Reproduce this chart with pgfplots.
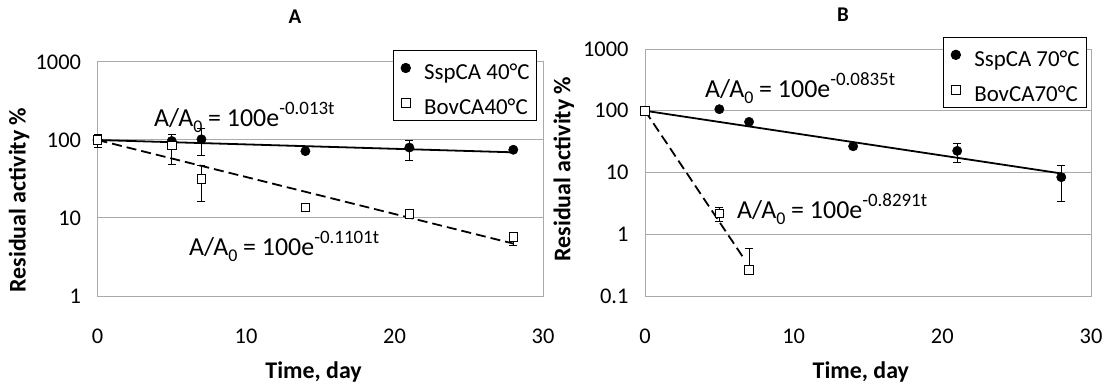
\documentclass[border=0pt]{standalone}
\usepackage{pgfplots}
\pgfplotsset{compat=1.18}
\usepackage{fontspec}
\setmainfont{Carlito}
\definecolor{gridgray}{RGB}{170,170,170}
\newcommand{\eqn}[2]{A/A\raisebox{-6bp}{\fontsize{18}{20}\selectfont #1} = 100e\raisebox{12bp}{\fontsize{19}{20}\selectfont #2}}
\pgfplotsset{
  every axis/.append style={
    scale only axis,
    xmin=0, xmax=30, xtick={0,10,20,30}, xticklabels={0,10,20,30},
    clip=false, major tick length=0pt,
    ymajorgrids, grid style={gridgray, line width=1bp},
    axis line style={gridgray, line width=1bp},
    /pgf/number format/assume math mode=true,
    tick label style={font=\fontsize{22.5}{26}\selectfont, black},
    xticklabel style={anchor=base, yshift=-47bp},
    yticklabel style={anchor=east, xshift=-13bp},
    label style={font=\fontsize{24}{28}\selectfont\bfseries},
    title style={font=\fontsize{21}{24}\selectfont\bfseries, anchor=center},
    legend style={draw=black, line width=0.9bp, fill=white, font=\fontsize{23}{26}\selectfont,
      anchor=north west, inner xsep=7bp, inner ysep=3bp, row sep=6bp, column sep=13bp,
      nodes={inner sep=0bp, text height=26bp, text depth=3bp},
      cells={anchor=west}},
    legend image code/.code={\path (-5bp,0bp) (5bp,0bp); \draw[##1] plot coordinates {(0bp,0bp)};},
  },
}
\tikzset{
  ebar/.style={black, line width=1bp, mark=-, mark size=4bp, mark options={solid, line width=1bp}},
  sspm/.style={only marks, mark=*, mark size=4.7bp, mark options={fill=black, draw=black}},
  bovm/.style={only marks, mark=square*, mark size=4.2bp, mark options={fill=white, draw=black, line width=0.8bp}},
}
\begin{document}
\begin{tikzpicture}[x=1bp,y=1bp]
\useasboundingbox (0,0) rectangle (1110,383);
% ---------------- Panel A
\begin{axis}[ymode=log, yminorticks=false, at={(97.5bp,87bp)}, anchor=south west, width=445.5bp, height=234bp,
  ymin=1, ymax=1000, ytick={1,10,100,1000}, yticklabels={1,10,100,1000},
  title={A}, title style={at={(axis description cs:0.443,1.167)}},
  xlabel={Time, day}, xlabel style={at={(axis description cs:0.485,-0.3526)}, anchor=base},
  ylabel={Residual activity \%}, ylabel style={at={(axis description cs:-0.176,0.41)}, anchor=center},
  legend style={at={(axis description cs:0.663,1.051)}}]
\addplot[ebar, forget plot] coordinates {(0,81) (0,116)};
\addplot[ebar, forget plot] coordinates {(5,49) (5,116)};
\addplot[ebar, forget plot] coordinates {(7,63) (7,141)};
\addplot[ebar, forget plot] coordinates {(7,16.4) (7,47)};
\addplot[ebar, forget plot] coordinates {(21,55) (21,98)};
\addplot[ebar, forget plot] coordinates {(28,4.4) (28,6.3)};
\addplot[sspm] coordinates {(0,100) (5,97) (7,102) (14,72) (21,80) (28,75)};
\addlegendentry{SspCA 40°C}
\addplot[bovm] coordinates {(0,100) (5,85) (7,31.6) (14,13.6) (21,11.3) (28,5.75)};
\addlegendentry{BovCA40°C}
\addplot[black, line width=1.8bp, forget plot] coordinates {(0,100) (28,69.5)};
\addplot[black, line width=1.8bp, dash pattern=on 10bp off 5bp, forget plot] coordinates {(0,100) (28,4.7)};
\end{axis}
% ---------------- Panel B
\begin{axis}[ymode=log, yminorticks=false, at={(645bp,87bp)}, anchor=south west, width=446bp, height=247bp,
  ymin=0.1, ymax=1000, ytick={0.1,1,10,100,1000}, yticklabels={0.1,1,10,100,1000},
  title={B}, title style={at={(axis description cs:0.444,1.113)}},
  xlabel={Time, day}, xlabel style={at={(axis description cs:0.484,-0.334)}, anchor=base},
  ylabel={Residual activity \%}, ylabel style={at={(axis description cs:-0.182,0.514)}, anchor=center},
  legend style={at={(axis description cs:0.668,1.049)}}]
\addplot[ebar, forget plot] coordinates {(0,85) (0,116)};
\addplot[ebar, forget plot] coordinates {(21,14.3) (21,29.4)};
\addplot[ebar, forget plot] coordinates {(28,3.4) (28,13.1)};
\addplot[ebar, forget plot] coordinates {(5,1.58) (5,2.7)};
\addplot[ebar, forget plot] coordinates {(7,0.265) (7,0.59)};
\addplot[sspm] coordinates {(0,100) (5,106) (7,66) (14,26.6) (21,22.4) (28,8.4)};
\addlegendentry{SspCA 70°C}
\addplot[bovm] coordinates {(0,100) (5,2.16) (7,0.265)};
\addlegendentry{BovCA70°C}
\addplot[black, line width=1.8bp, forget plot] coordinates {(0,100) (28,9.65)};
\addplot[black, line width=1.8bp, dash pattern=on 10bp off 5bp, forget plot] coordinates {(0,100) (6.55,0.44)};
\end{axis}
% ---------------- fit equations
\node[anchor=base west, inner sep=0, font=\fontsize{26}{30}\selectfont] at (154,257) {\eqn{0}{-0.013t}};
\node[anchor=base west, inner sep=0, font=\fontsize{26}{30}\selectfont] at (189,128) {\eqn{0}{-0.1101t}};
\node[anchor=base west, inner sep=0, font=\fontsize{26}{30}\selectfont] at (705,286) {\eqn{0}{-0.0835t}};
\node[anchor=base west, inner sep=0, font=\fontsize{26}{30}\selectfont] at (737,165) {\eqn{0}{-0.8291t}};
\end{tikzpicture}
\end{document}
